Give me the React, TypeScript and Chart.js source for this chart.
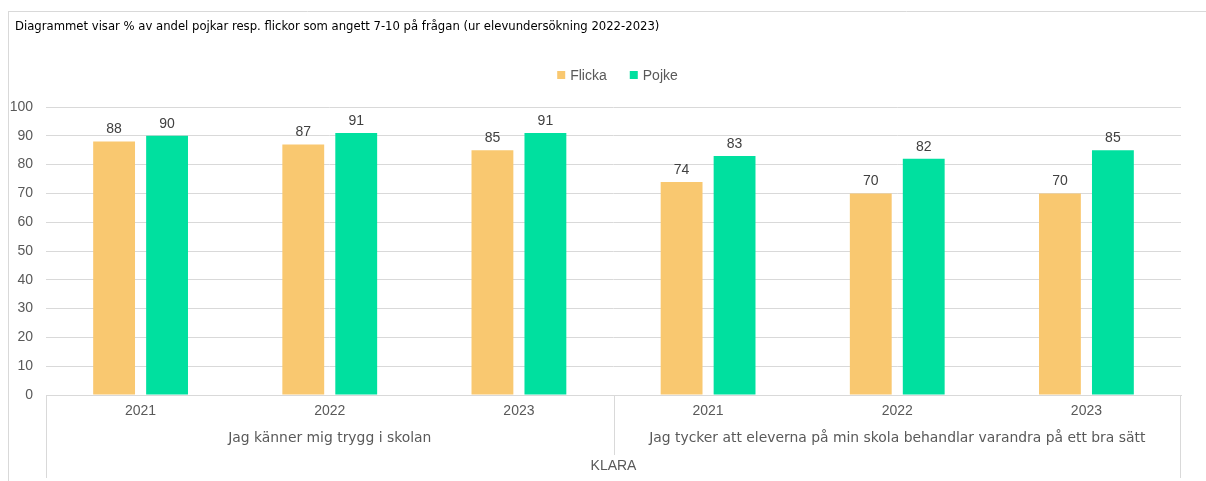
import React, { useEffect, useRef } from "react";
import { Chart, registerables } from "chart.js";

Chart.register(...registerables);

const titleText =
  "Diagrammet visar % av andel pojkar resp. flickor som angett 7-10 på frågan (ur elevundersökning 2022-2023)";
const years = ["2021", "2022", "2023", "2021", "2022", "2023"];
const groups = [
  "Jag känner mig trygg i skolan",
  "Jag tycker att eleverna på min skola behandlar varandra på ett bra sätt",
];
const groupSizes = [3, 3];
const topGroup = "KLARA";
const seriesNames = ["Flicka", "Pojke"];
const flicka = [88, 87, 85, 74, 70, 70];
const pojke = [90, 91, 91, 83, 82, 85];
const yTicks = { min: 0, max: 100, step: 10 };

const COLORS = ["#F9C870", "#00E09F"];
const FONT = "'Liberation Sans', Arial, sans-serif";
const WIDE = "'DejaVu Sans', sans-serif";
const GRID = "#D9D9D9";
const TXT = "#595959";

const overlay = {
  id: "overlay",
  afterDraw(chart: any) {
    const ctx = chart.ctx;
    const area = chart.chartArea;
    const W = chart.width;
    const H = chart.height;
    ctx.save();
    // frame
    ctx.strokeStyle = GRID;
    ctx.lineWidth = 1;
    ctx.beginPath();
    ctx.moveTo(8, 11.5);
    ctx.lineTo(W, 11.5);
    ctx.moveTo(8.5, 11);
    ctx.lineTo(8.5, H);
    ctx.stroke();

    // title
    ctx.fillStyle = "#000";
    ctx.font = `11.65px ${WIDE}`;
    ctx.textAlign = "left";
    ctx.textBaseline = "middle";
    ctx.fillText(titleText, 15, 27);

    // legend
    ctx.font = `14px ${FONT}`;
    const box = 8;
    const gapText = 5;
    const gapItem = 23;
    const widths = chart.data.datasets.map(
      (d: any) => box + gapText + ctx.measureText(d.label).width
    );
    const total = widths.reduce((a: number, b: number) => a + b, 0) + gapItem * (widths.length - 1);
    let lx = (area.left + area.right) / 2 + 4 - total / 2;
    const ly = 75;
    chart.data.datasets.forEach((d: any, i: number) => {
      ctx.fillStyle = d.backgroundColor;
      ctx.fillRect(lx, ly - box / 2, box, box);
      ctx.fillStyle = TXT;
      ctx.textAlign = "left";
      ctx.fillText(d.label, lx + box + gapText, ly + 1);
      lx += widths[i] + gapItem;
    });

    // data labels
    ctx.font = `14px ${FONT}`;
    ctx.fillStyle = "#404040";
    ctx.textAlign = "center";
    ctx.textBaseline = "middle";
    chart.data.datasets.forEach((d: any, i: number) => {
      const meta = chart.getDatasetMeta(i);
      meta.data.forEach((el: any, j: number) => {
        ctx.fillText(String(d.data[j]), el.x, el.y - 12);
      });
    });

    // hierarchical x axis
    const xs = chart.scales.x;
    const bottom = area.bottom;
    const half = (xs.getPixelForValue(1) - xs.getPixelForValue(0)) / 2;
    ctx.strokeStyle = GRID;
    ctx.beginPath();
    ctx.moveTo(Math.round(area.left) + 0.5, bottom);
    ctx.lineTo(Math.round(area.left) + 0.5, 478);
    ctx.moveTo(Math.round(area.right) - 0.5, bottom);
    ctx.lineTo(Math.round(area.right) - 0.5, 478);
    let idx = 0;
    const centers: number[] = [];
    groupSizes.forEach((n, g) => {
      const start = xs.getPixelForValue(idx) - half;
      const end = xs.getPixelForValue(idx + n - 1) + half;
      centers.push((start + end) / 2);
      if (g > 0) {
        ctx.moveTo(Math.round(start) + 0.5, bottom);
        ctx.lineTo(Math.round(start) + 0.5, 455);
      }
      idx += n;
    });
    ctx.stroke();
    ctx.fillStyle = TXT;
    ctx.font = `13.9px ${WIDE}`;
    groups.forEach((g, i) => ctx.fillText(g, centers[i], 438));
    ctx.font = `14px ${FONT}`;
    ctx.fillText(topGroup, (area.left + area.right) / 2, 466);
    ctx.restore();
  },
};

export default function App() {
  const ref = useRef<HTMLCanvasElement | null>(null);
  useEffect(() => {
    if (!ref.current) return;
    const chart = new Chart(ref.current, {
      type: "bar",
      data: {
        labels: years,
        datasets: [
          {
            label: seriesNames[0],
            data: flicka,
            backgroundColor: COLORS[0],
            categoryPercentage: 0.56,
            barPercentage: 0.79,
          },
          {
            label: seriesNames[1],
            data: pojke,
            backgroundColor: COLORS[1],
            categoryPercentage: 0.56,
            barPercentage: 0.79,
          },
        ],
      },
      options: {
        animation: false,
        responsive: false,
        devicePixelRatio: 1,
        layout: { padding: { top: 107, left: 0, right: 25, bottom: 0 } },
        plugins: {
          legend: { display: false },
          title: { display: false },
          tooltip: { enabled: false },
        },
        scales: {
          x: {
            grid: { display: false, drawTicks: false },
            border: { display: true, color: GRID },
            ticks: {
              color: TXT,
              font: { family: FONT, size: 14 },
              padding: 8,
              maxRotation: 0,
            },
            afterFit: (s: any) => {
              s.height = 86;
            },
          },
          y: {
            min: yTicks.min,
            max: yTicks.max,
            grid: { color: GRID, drawTicks: false },
            border: { display: false },
            ticks: {
              stepSize: yTicks.step,
              color: TXT,
              font: { family: FONT, size: 14 },
              padding: 13,
            },
            afterFit: (s: any) => {
              s.width = 46;
            },
          },
        },
      },
      plugins: [overlay],
    });
    return () => chart.destroy();
  }, []);
  return (
    <div style={{ position: "fixed", left: 0, top: 0, width: 1206, height: 481, background: "#fff" }}>
      <canvas ref={ref} width={1206} height={481} style={{ width: 1206, height: 481 }} />
    </div>
  );
}
